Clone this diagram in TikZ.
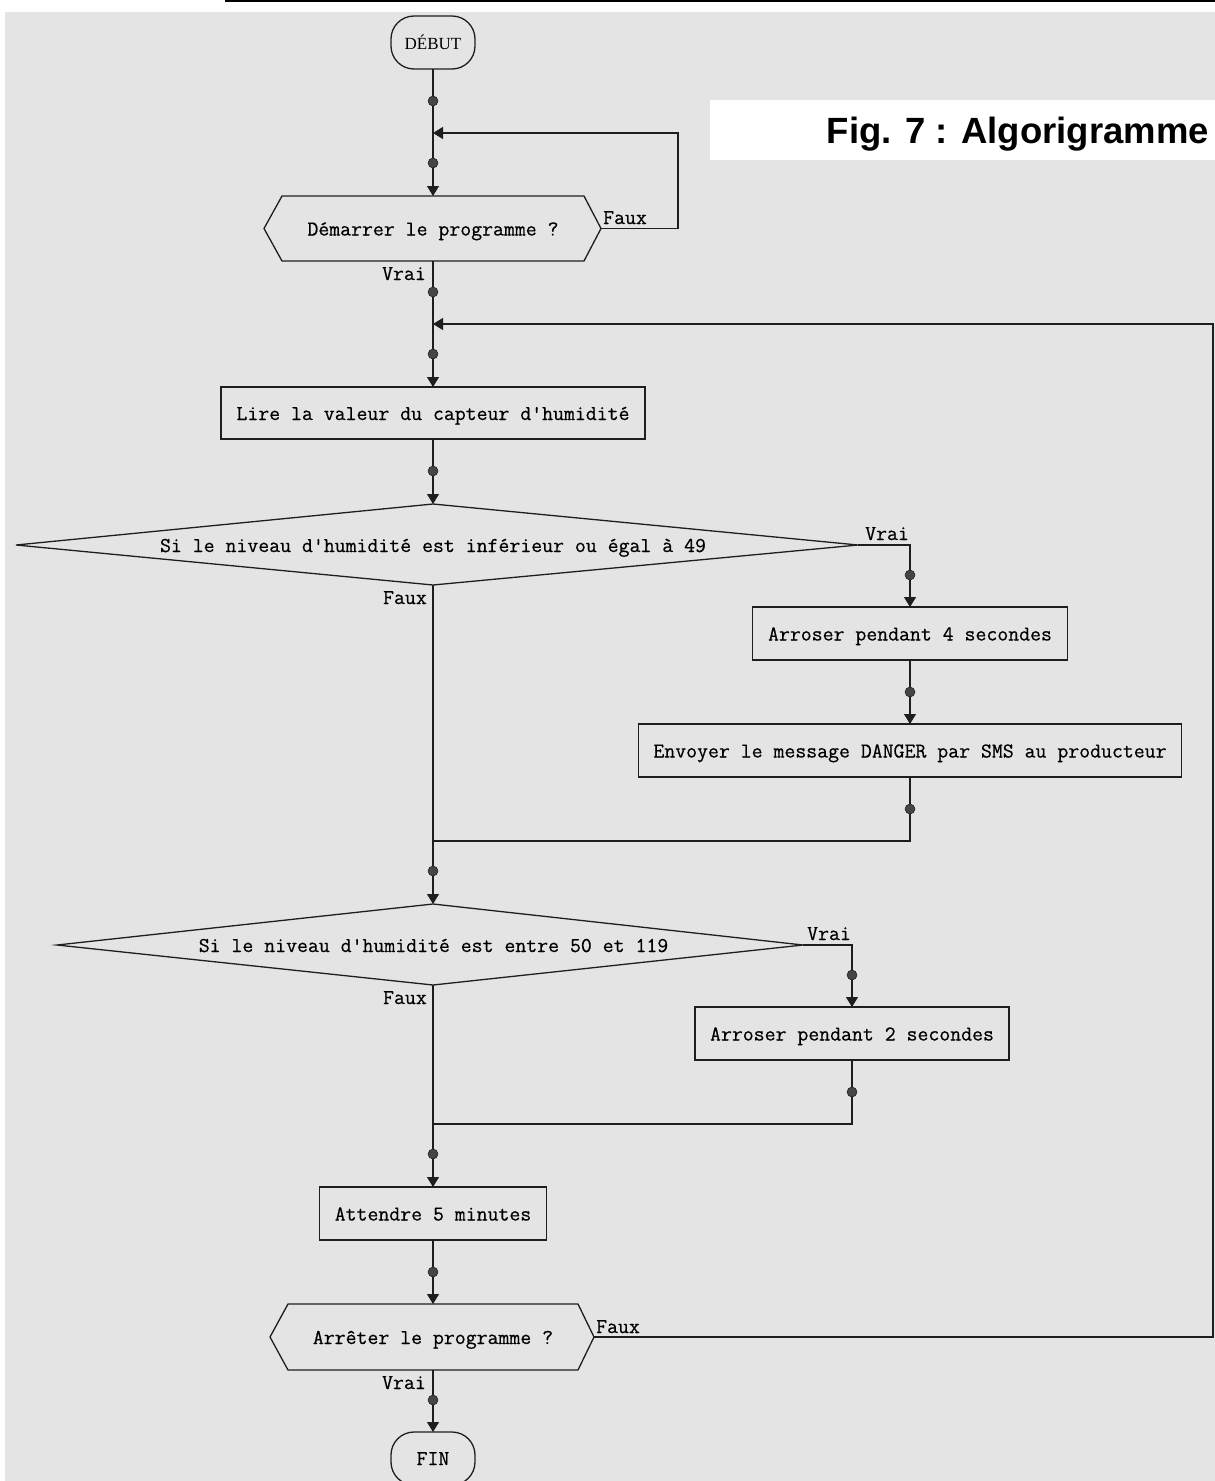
\documentclass[tikz,border=0pt]{standalone}
\usepackage{fontspec}
\usetikzlibrary{arrows.meta}
\newfontfamily\labelsans{Liberation Sans}
\newfontfamily\termserif{Liberation Serif}
\newfontfamily\flowmono[FakeBold=0.5]{Latin Modern Mono}
\newcommand\monotxt{\flowmono\fontsize{21.2pt}{24pt}\selectfont}
\definecolor{bgc}{HTML}{E4E4E4}
\definecolor{dotc}{HTML}{454545}
\definecolor{linec}{HTML}{1E1E1E}
\tikzset{
  ln/.style={draw=linec, line width=1.3pt},
  arr/.style={ln, -{Triangle[width=12pt,length=10pt]}},
  procbox/.style={draw=linec, line width=1.3pt, rectangle, inner sep=0pt, outer sep=0pt, font=\monotxt, text height=14pt, text depth=0pt},
  term/.style={draw=linec, line width=1.3pt, rectangle, rounded corners=23pt, minimum width=84pt, minimum height=53pt, inner sep=0pt, outer sep=0pt, text height=13pt, text depth=0pt},
  hexin/.style={rectangle, inner sep=0pt, outer sep=0pt, font=\monotxt, text height=14pt, text depth=0pt},
  lbl/.style={inner sep=0pt, font=\monotxt, text height=14pt, text depth=0pt},
  jdot/.style={circle, fill=dotc, draw=linec, line width=0.5pt, minimum size=10pt, inner sep=0pt},
}
\begin{document}
\begin{tikzpicture}[x=1pt,y=-1pt]
\useasboundingbox (0,0) rectangle (1215,1481);
\fill[white] (0,0) rectangle (1215,1481);
\fill[bgc] (5,12) rectangle (1215,1481);
\draw[line width=2pt] (225,1) -- (1215,1);
% title
\fill[white] (710,100) rectangle (1215,160);
\node[anchor=base east, inner sep=0pt, font=\labelsans\bfseries\fontsize{36.5pt}{42pt}\selectfont] (title) at (1209,143) {Fig. 7 : Algorigramme};

% terminals
\node[term, font=\termserif\fontsize{17pt}{20pt}\selectfont] (debut) at (433,42.5) {DÉBUT};
\node[term, font=\monotxt] (fin) at (433,1458.5) {FIN};

% hexagon 1
\node[hexin, minimum width=302pt, minimum height=65pt] (hex1) at (433,228.5) {Démarrer le programme ?};
\coordinate (h1R) at ([xshift=17pt]hex1.east);
\coordinate (h1L) at ([xshift=-18pt]hex1.west);
\draw[ln] (hex1.north west) -- (hex1.north east) -- (h1R) -- (hex1.south east) -- (hex1.south west) -- (h1L) -- cycle;

% hexagon 2
\node[hexin, minimum width=290pt, minimum height=66pt] (hex2) at (433,1337) {Arrêter le programme ?};
\coordinate (h2R) at ([xshift=16pt]hex2.east);
\coordinate (h2L) at ([xshift=-18pt]hex2.west);
\draw[ln] (hex2.north west) -- (hex2.north east) -- (h2R) -- (hex2.south east) -- (hex2.south west) -- (h2L) -- cycle;

% process boxes
\node[procbox, minimum width=424pt, minimum height=52pt] (lire) at (433,413) {Lire la valeur du capteur d'humidité};
\node[procbox, minimum width=315pt, minimum height=53pt] (ar4) at (910,633.5) {Arroser pendant 4 secondes};
\node[procbox, minimum width=543pt, minimum height=53pt] (env) at (910,750.5) {Envoyer le message DANGER par SMS au producteur};
\node[procbox, minimum width=314pt, minimum height=53pt] (ar2) at (852,1033.5) {Arroser pendant 2 secondes};
\node[procbox, minimum width=227pt, minimum height=53pt] (att) at (433,1213.5) {Attendre 5 minutes};

% diamond 1
\node[lbl] (d1) at (433,545) {Si le niveau d'humidité est inférieur ou égal à 49};
\coordinate (d1t) at (433,504);
\coordinate (d1b) at (433,585);
\coordinate (d1l) at (16,545);
\coordinate (d1r) at (858,545);
\draw[ln] (d1t) -- (d1r) -- (d1b) -- (d1l) -- cycle;

% diamond 2
\node[lbl] (d2) at (433.5,945) {Si le niveau d'humidité est entre 50 et 119};
\coordinate (d2t) at (433,904);
\coordinate (d2b) at (433,985);
\coordinate (d2l) at (57,945);
\coordinate (d2r) at (803,945);
\draw[ln] (d2t) -- (d2r) -- (d2b) -- (d2l) -- cycle;

% junction coordinates
\coordinate (j1) at (433,133);
\coordinate (j2) at (433,324);
\coordinate (m1) at (433,841);
\coordinate (m2) at (433,1124);
\coordinate (e2) at (1213,1337);
\coordinate (c1) at (678,228.5);

% connectors
\draw[arr] (debut.south) -- (hex1.north);
\draw[arr] (h1R) -- (c1) |- (j1);
\draw[arr] (hex1.south) -- (lire.north);
\draw[arr] (h2R) -- (e2) |- (j2);
\draw[arr] (lire.south) -- (d1t);
\draw[arr] (d1r) -| (ar4.north);
\draw[arr] (ar4.south) -- (env.north);
\draw[ln] (env.south) |- (m1);
\draw[arr] (d1b) -- (d2t);
\draw[arr] (d2r) -| (ar2.north);
\draw[ln] (ar2.south) |- (m2);
\draw[arr] (d2b) -- (att.north);
\draw[arr] (att.south) -- (hex2.north);
\draw[arr] (hex2.south) -- (fin.north);

% dots
\foreach \px/\py/\nm in {433/101/p1, 433/163/p2, 433/292/p3, 433/354/p4, 433/471/p5, 910/575/p6, 910/692/p7, 910/809/p8, 433/871/p9, 852/975/p10, 852/1092/p11, 433/1154/p12, 433/1272/p13, 433/1400/p14}
  \node[jdot] (\nm) at (\px,\py) {};

% labels
\node[lbl, anchor=west] (l1) at (603,217) {Faux};
\node[lbl, anchor=east] (l2) at (426,273) {Vrai};
\node[lbl, anchor=west] (l3) at (865,533) {Vrai};
\node[lbl, anchor=east] (l4) at (427,597) {Faux};
\node[lbl, anchor=west] (l5) at (807,933) {Vrai};
\node[lbl, anchor=east] (l6) at (427,997) {Faux};
\node[lbl, anchor=west] (l7) at (596,1326) {Faux};
\node[lbl, anchor=east] (l8) at (426,1382) {Vrai};
\end{tikzpicture}
\end{document}
